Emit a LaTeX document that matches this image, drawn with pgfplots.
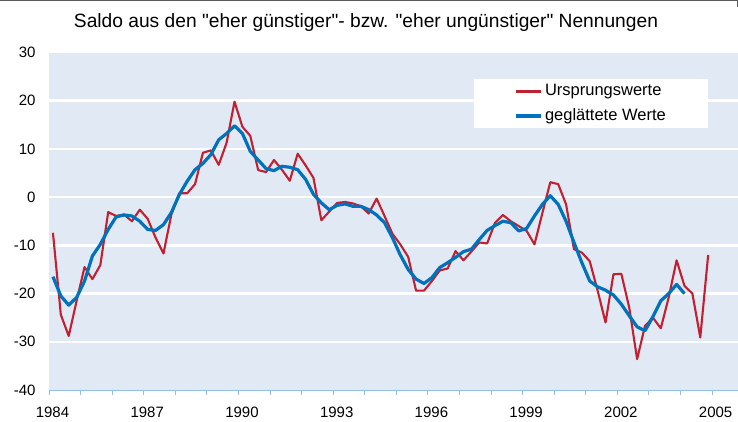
\documentclass[border=0pt]{standalone}
\usepackage{fontspec}
\setmainfont{Liberation Sans}
\newfontfamily\plainsans{Liberation Sans}
\usepackage{pgfplots}
\pgfplotsset{compat=1.18}
\usepackage{pgfplotstable}
\definecolor{bgc}{RGB}{225,233,244}
\definecolor{redl}{RGB}{192,32,48}
\definecolor{bluel}{RGB}{0,114,188}
\definecolor{tickb}{RGB}{150,190,230}
\pgfplotstableread{
x y
1984.125 -7.4
1984.375 -24.4
1984.625 -28.8
1984.875 -21.5
1985.125 -14.5
1985.375 -17.0
1985.625 -14.1
1985.875 -3.1
1986.125 -3.9
1986.375 -3.6
1986.625 -5.0
1986.875 -2.6
1987.125 -4.5
1987.375 -8.4
1987.625 -11.7
1987.875 -3.6
1988.125 0.8
1988.375 0.8
1988.625 2.7
1988.875 9.2
1989.125 9.7
1989.375 6.7
1989.625 11.3
1989.875 19.8
1990.125 14.6
1990.375 12.7
1990.625 5.6
1990.875 5.2
1991.125 7.7
1991.375 5.7
1991.625 3.4
1991.875 9.0
1992.125 6.6
1992.375 4.0
1992.625 -4.8
1992.875 -3.0
1993.125 -1.2
1993.375 -1.0
1993.625 -1.3
1993.875 -1.9
1994.125 -3.4
1994.375 -0.3
1994.625 -3.9
1994.875 -7.6
1995.125 -9.8
1995.375 -12.4
1995.625 -19.4
1995.875 -19.4
1996.125 -17.4
1996.375 -15.2
1996.625 -14.8
1996.875 -11.2
1997.125 -13.1
1997.375 -11.3
1997.625 -9.4
1997.875 -9.6
1998.125 -5.3
1998.375 -3.7
1998.625 -5.0
1998.875 -6.0
1999.125 -7.0
1999.375 -9.8
1999.625 -3.3
1999.875 3.1
2000.125 2.7
2000.375 -1.5
2000.625 -10.8
2000.875 -11.5
2001.125 -13.3
2001.375 -19.4
2001.625 -26.0
2001.875 -16.0
2002.125 -15.9
2002.375 -22.9
2002.625 -33.6
2002.875 -26.7
2003.125 -25.0
2003.375 -27.2
2003.625 -20.8
2003.875 -13.1
2004.125 -18.4
2004.375 -20.0
2004.625 -29.1
2004.875 -12.0
}\rawdata
\pgfplotstableread{
x y
1984.125 -16.5
1984.375 -20.5
1984.625 -22.4
1984.875 -20.8
1985.125 -17.4
1985.375 -12.2
1985.625 -9.8
1985.875 -6.7
1986.125 -4.1
1986.375 -3.7
1986.625 -3.9
1986.875 -5.0
1987.125 -6.7
1987.375 -6.9
1987.625 -5.7
1987.875 -3.2
1988.125 0.5
1988.375 3.3
1988.625 5.7
1988.875 7.0
1989.125 8.8
1989.375 11.9
1989.625 13.2
1989.875 14.8
1990.125 13.2
1990.375 9.5
1990.625 7.7
1990.875 5.9
1991.125 5.5
1991.375 6.4
1991.625 6.2
1991.875 5.7
1992.125 3.7
1992.375 0.6
1992.625 -1.2
1992.875 -2.6
1993.125 -1.7
1993.375 -1.4
1993.625 -1.9
1993.875 -1.9
1994.125 -2.6
1994.375 -3.7
1994.625 -5.3
1994.875 -8.4
1995.125 -12.0
1995.375 -15.0
1995.625 -17.0
1995.875 -17.9
1996.125 -16.7
1996.375 -14.6
1996.625 -13.6
1996.875 -12.5
1997.125 -11.3
1997.375 -10.8
1997.625 -8.8
1997.875 -6.9
1998.125 -5.9
1998.375 -5.0
1998.625 -5.3
1998.875 -7.0
1999.125 -6.5
1999.375 -3.9
1999.625 -1.5
1999.875 0.3
2000.125 -1.5
2000.375 -5.0
2000.625 -9.4
2000.875 -13.6
2001.125 -17.4
2001.375 -18.6
2001.625 -19.3
2001.875 -20.3
2002.125 -22.2
2002.375 -24.6
2002.625 -26.9
2002.875 -27.7
2003.125 -24.8
2003.375 -21.5
2003.625 -20.0
2003.875 -18.1
2004.125 -20.0
}\smoothdata
\begin{document}
\begin{tikzpicture}
\useasboundingbox (0,0) rectangle (738pt,421pt);
\draw[line width=1.5pt, black!65] (0,420.25pt) -- (737.25pt,420.25pt) -- (737.25pt,414pt);
\node[font=\plainsans\fontsize{19.2}{23}\selectfont, anchor=base, inner sep=0pt] at (366pt,393.5pt) {Saldo aus den "eher günstiger"- bzw. "eher ungünstiger" Nennungen};
\begin{axis}[
  at={(49pt,31pt)}, anchor=south west,
  scale only axis, width=689pt, height=337.5pt,
  xmin=1984, xmax=2005.82, ymin=-40, ymax=30,
  axis background/.style={fill=bgc},
  axis x line*=bottom, axis y line*=left,
  x axis line style={draw=tickb, line width=1pt},
  y axis line style={draw=none},
  xtick={1984,1987,...,2005},
  xticklabels={1984,1987,1990,1993,1996,1999,2002,2005},
  minor xtick={1984,...,2005},
  ytick={-30,-20,...,20},
  yticklabels={-30,-20,-10,0,10,20},
  extra y ticks={-40,30},
  extra y tick labels={-40,30},
  extra y tick style={grid=none},
  ymajorgrids,
  major grid style={white, line width=2.5pt},
  major tick length=0pt, minor tick length=5pt,
  tick align=outside,
  minor tick style={draw=tickb, line width=0.8pt},
  major tick style={draw=none},
  ticklabel style={font=\fontsize{15}{18}\selectfont},
  xticklabel style={inner sep=1pt, xshift=3.5pt, yshift=-15.5pt},
  yticklabel style={xshift=-10pt},
  legend style={at={(rel axis cs:0.617,0.9215)}, anchor=north west,
    draw=none, fill=white, inner xsep=40pt, inner ysep=0pt,
    font=\fontsize{16.5}{19}\selectfont,
    nodes={inner xsep=2.5pt, inner ysep=4.5pt, text height=12pt, text depth=3.5pt}},
  legend cell align=left,
  legend image code/.code={\draw[#1] (0pt,0pt) -- (25pt,0pt);},
]
\addplot[redl, line width=2.1pt, line join=round] table {\rawdata};
\addlegendentry{Ursprungswerte}
\addplot[bluel, line width=3.2pt, line join=round] table {\smoothdata};
\addlegendentry{geglättete Werte}
\end{axis}
\end{tikzpicture}
\end{document}
